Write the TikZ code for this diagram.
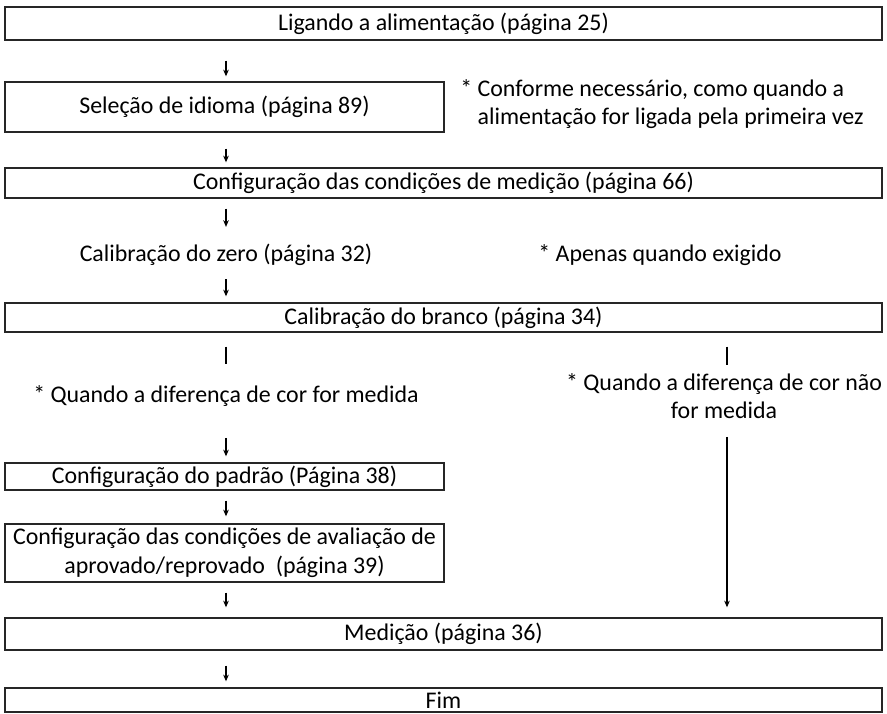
\documentclass[tikz,border=0pt]{standalone}
\usepackage{fontspec}
\setmainfont{Carlito}
\usetikzlibrary{arrows.meta}

\begin{document}
\begin{tikzpicture}[x=0.02cm, y=-0.02cm,
    box/.style={draw=black!85, line width=0.8pt, inner sep=0pt, align=center,
      font=\fontsize{13.6}{16.5}\selectfont},
    wide/.style={box, minimum width=17.54cm},
    half/.style={box, minimum width=8.78cm},
    note/.style={inner sep=0pt, align=center, font=\fontsize{13.6}{16}\selectfont},
    arrow/.style={-{Stealth[length=3.8pt, width=3.2pt]}, line width=0.6pt},
    stem/.style={line width=0.6pt},
  ]
    \useasboundingbox (0,0) rectangle (887,714);
    \coordinate (colL) at (226,0);
    \coordinate (colR) at (727,0);

    \node[wide, minimum height=0.66cm] (lig)    at (443.5,23.5) {Ligando a alimentação (página 25)};
    \node[half, minimum height=1.0cm]  (idioma) at (224.5,107)  {Seleção de idioma (página 89)};
    \node[note, align=left, anchor=west] (nec) at (460,104)
      {* Conforme necessário, como quando a\\\phantom{*~}alimentação for ligada pela primeira vez};
    \node[wide, minimum height=0.6cm]  (cond)   at (443.5,183)  {Configuração das condições de medição (página 66)};
    \node[note] (zero)    at (226,255) {Calibração do zero (página 32)};
    \node[note] (apenas)  at (660,255) {* Apenas quando exigido};
    \node[wide, minimum height=0.58cm] (branco) at (443.5,317.5) {Calibração do branco (página 34)};
    \node[note] (medida)  at (226,396) {* Quando a diferença de cor for medida};
    \node[note] (naomed)  at (724,396) {* Quando a diferença de cor não\\for medida};
    \node[half, minimum height=0.54cm] (padrao) at (224.5,476.5) {Configuração do padrão (Página 38)};
    \node[half, minimum height=1.16cm] (aval)   at (224.5,553)
      {Configuração das condições de avaliação de\\aprovado/reprovado\ \ (página 39)};
    \node[wide, minimum height=0.64cm] (medicao) at (443.5,634) {Medição (página 36)};
    \node[wide, minimum height=0.48cm] (fim)     at (443.5,700) {Fim};

    % fluxo principal
    \draw[arrow, shorten <=0.4cm,  shorten >=0.1cm]  (lig.south -| colL)    -- (idioma.north -| colL);
    \draw[arrow, shorten <=0.32cm, shorten >=0.1cm]  (idioma.south -| colL) -- (cond.north -| colL);
    \draw[arrow, shorten <=0.2cm,  shorten >=0.34cm] (cond.south -| colL)   -- (zero.north);
    \draw[arrow, shorten <=0.26cm, shorten >=0.12cm] (zero.south)           -- (branco.north -| colL);
    \draw[stem,  shorten <=0.28cm, shorten >=0.42cm] (branco.south -| colL) -- (medida.north);
    \draw[stem,  shorten <=0.28cm, shorten >=0.17cm] (branco.south -| colR) -- (naomed.north -| colR);
    \draw[arrow, shorten <=0.62cm, shorten >=0.12cm] (medida.south)         -- (padrao.north -| colL);
    \draw[arrow, shorten <=0.2cm,  shorten >=0.14cm] (padrao.south -| colL) -- (aval.north -| colL);
    \draw[arrow, shorten <=0.2cm,  shorten >=0.2cm]  (aval.south -| colL)   -- (medicao.north -| colL);
    \draw[arrow, shorten <=0.36cm, shorten >=0.2cm]  (naomed.south -| colR) -- (medicao.north -| colR);
    \draw[arrow, shorten <=0.3cm,  shorten >=0.12cm] (medicao.south -| colL) -- (fim.north -| colL);
\end{tikzpicture}
\end{document}
